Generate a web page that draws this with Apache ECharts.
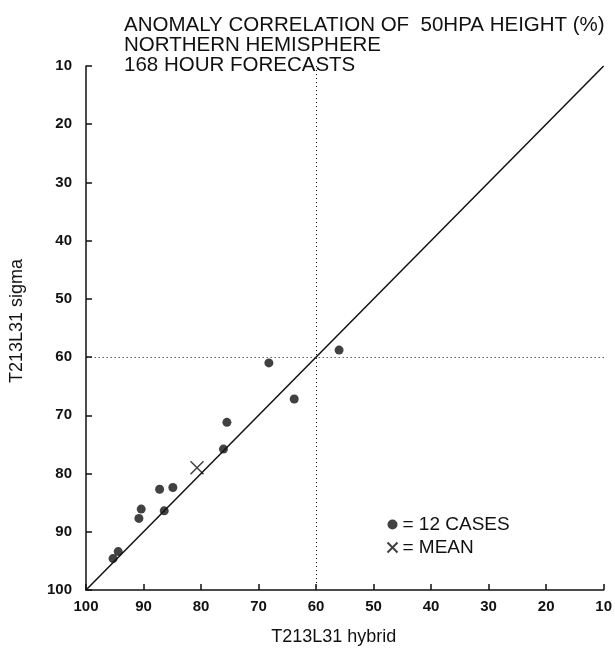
<!DOCTYPE html>
<html lang="en">
<head>
    <meta charset="UTF-8">
    <title>Anomaly correlation 50hPa</title>
    <script src="https://cdn.jsdelivr.net/npm/echarts@6/dist/echarts.min.js"></script>
    <style>
        body { margin: 0; background: #fff; }
        #main { width: 615px; height: 656px; }
    </style>
</head>
<body>
    <div id="main"></div>
    <script>
        // values: x = hybrid, y = sigma
        const hybrid = [95.3, 94.4, 90.8, 90.4, 87.2, 86.4, 84.9, 76.1, 75.5, 68.2, 63.8, 56.0];
        const sigma = [94.6, 93.4, 87.7, 86.1, 82.7, 86.4, 82.4, 75.8, 71.2, 61.0, 67.2, 58.8];
        const meanPoint = [80.7, 79.0];
        const diagonal = [[100, 100], [10, 10]];
        const refValue = 60;
        const titleLines = ['ANOMALY CORRELATION OF  50HPA HEIGHT (%)', 'NORTHERN HEMISPHERE', '168 HOUR FORECASTS'];

        const chart = echarts.init(document.getElementById('main'));
        const ink = '#111';
        const font = '"Liberation Sans", Arial, sans-serif';

        const axisCommon = {
            type: 'value',
            min: 10,
            max: 100,
            interval: 10,
            inverse: true,
            nameLocation: 'middle',
            nameTextStyle: { color: ink, fontSize: 18, fontFamily: font },
            axisLine: { lineStyle: { color: ink, width: 1.5 } },
            axisTick: { inside: true, length: 6, lineStyle: { color: ink, width: 1.5 } },
            axisLabel: { color: ink, fontSize: 15, fontWeight: 'bold', fontFamily: font },
            splitLine: { show: false }
        };

        const option = {
            animation: false,
            backgroundColor: '#fff',
            title: {
                text: titleLines.join('\n'),
                left: 119,
                top: 10,
                textStyle: { color: ink, fontSize: 20.5, fontWeight: 'normal', fontFamily: font, lineHeight: 20 }
            },
            legend: {
                orient: 'vertical',
                left: 380,
                top: 510,
                itemGap: 4,
                itemWidth: 10,
                itemHeight: 10,
                textStyle: { color: ink, fontSize: 19, fontFamily: font },
                data: ['= 12 CASES', '= MEAN']
            },
            grid: { left: 85, right: 8, top: 66, bottom: 66 },
            xAxis: Object.assign({}, axisCommon, {
                name: 'T213L31 hybrid',
                nameGap: 38,
                nameTextStyle: Object.assign({}, axisCommon.nameTextStyle, { padding: [0, 22, 0, 0] }),
                axisLabel: Object.assign({}, axisCommon.axisLabel, { margin: 9 })
            }),
            yAxis: Object.assign({}, axisCommon, {
                name: 'T213L31 sigma',
                nameGap: 60,
                nameTextStyle: Object.assign({}, axisCommon.nameTextStyle, { padding: [0, 0, 0, 14] }),
                axisLabel: Object.assign({}, axisCommon.axisLabel, { margin: 14 })
            }),
            series: [
                {
                    type: 'line',
                    data: diagonal,
                    symbol: 'none',
                    silent: true,
                    lineStyle: { color: ink, width: 1.5 },
                    markLine: {
                        silent: true,
                        symbol: 'none',
                        label: { show: false },
                        lineStyle: { color: ink, type: [1, 3], width: 1 },
                        data: [{ xAxis: refValue }, { yAxis: refValue }]
                    }
                },
                {
                    name: '= 12 CASES',
                    type: 'scatter',
                    symbol: 'circle',
                    symbolSize: 9,
                    itemStyle: { color: ink },
                    data: hybrid.map((h, i) => [h, sigma[i]])
                },
                {
                    name: '= MEAN',
                    type: 'scatter',
                    symbol: 'path://M0,0L10,10M10,0L0,10',
                    symbolSize: 13,
                    itemStyle: { color: 'none', borderColor: ink, borderWidth: 1.5 },
                    data: [meanPoint]
                }
            ]
        };

        chart.setOption(option);
    </script>
</body>
</html>
